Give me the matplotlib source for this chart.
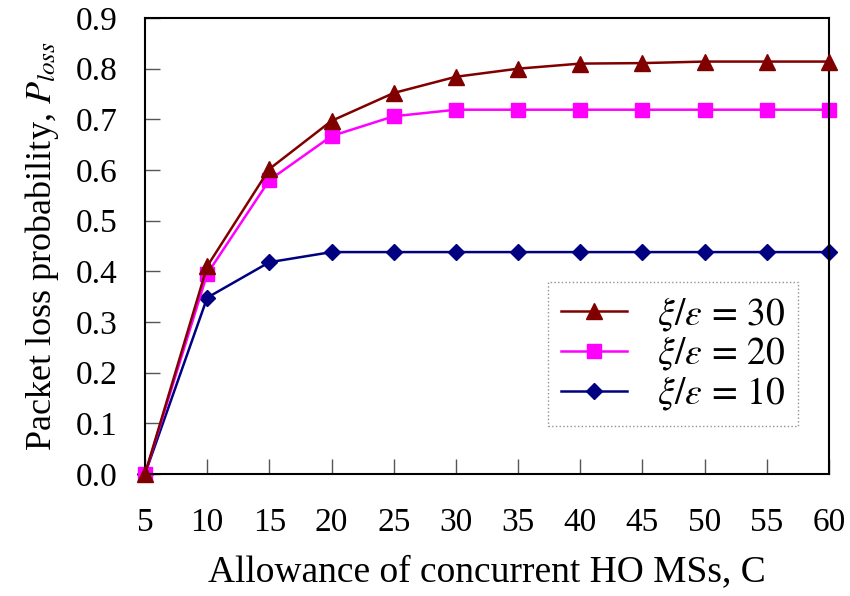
import numpy as np
import matplotlib
matplotlib.use("Agg")
import matplotlib.pyplot as plt

plt.rcParams['font.family'] = ['Liberation Serif', 'DejaVu Serif']
plt.rcParams['mathtext.fontset'] = 'stix'

# data
C = [5, 10, 15, 20, 25, 30, 35, 40, 45, 50, 55, 60]
p_30 = [0.0, 0.41, 0.602, 0.697, 0.752, 0.784, 0.800, 0.810, 0.811, 0.814, 0.814, 0.814]
p_20 = [0.0, 0.395, 0.580, 0.667, 0.706, 0.719, 0.719, 0.719, 0.719, 0.719, 0.719, 0.719]
p_10 = [0.0, 0.348, 0.418, 0.438, 0.438, 0.438, 0.438, 0.438, 0.438, 0.438, 0.438, 0.438]

labels = [r'$\xi/\varepsilon\,=\,30$', r'$\xi/\varepsilon\,=\,20$', r'$\xi/\varepsilon\,=\,10$']
xticks = C
yticks = [0.0, 0.1, 0.2, 0.3, 0.4, 0.5, 0.6, 0.7, 0.8, 0.9]

fig = plt.figure(figsize=(8.5, 5.96), dpi=100)
ax = fig.add_axes([145 / 850, 1 - 474 / 596, (829 - 145) / 850, (474 - 18) / 596])

ax.plot(C, p_30, color='#800000', lw=1.8, marker='^', ms=12, label=labels[0], clip_on=False, zorder=3)
ax.plot(C, p_20, color='#FF00FF', lw=1.8, marker='s', ms=10, label=labels[1], clip_on=False, zorder=2)
ax.plot(C, p_10, color='#000080', lw=1.8, marker='D', ms=8.5, label=labels[2], clip_on=False, zorder=1)

ax.set_xlim(5, 60)
ax.set_ylim(0, 0.9)
ax.set_xticks(xticks)
ax.set_yticks(yticks)
ax.set_yticklabels([f'{v:.1f}' for v in yticks])
ax.tick_params(axis='both', direction='in', length=11, width=1, color='#555555',
               labelsize=24)
ax.tick_params(axis='y', pad=20)
ax.tick_params(axis='x', pad=24)
for s in ax.spines.values():
    s.set_linewidth(1.5)

ax.set_xlabel('Allowance of concurrent HO MSs, C', fontsize=27, labelpad=12)
ax.set_ylabel(r'Packet loss probability, $P_{loss}$', fontsize=26, labelpad=10)

leg = ax.legend(loc='center',
                bbox_to_anchor=(532 / 850, 1 - 425 / 596, (814 - 532) / 850, (425 - 282) / 596),
                bbox_transform=fig.transFigure, fontsize=27, frameon=True,
                fancybox=False, handlelength=1.75, handletextpad=0.8,
                labelspacing=0.05, borderpad=0.35, borderaxespad=0)
frame = leg.get_frame()
frame.set_edgecolor('#777777')
frame.set_linestyle(':')
frame.set_linewidth(1.0)

fig.savefig('out.png', dpi=100)
